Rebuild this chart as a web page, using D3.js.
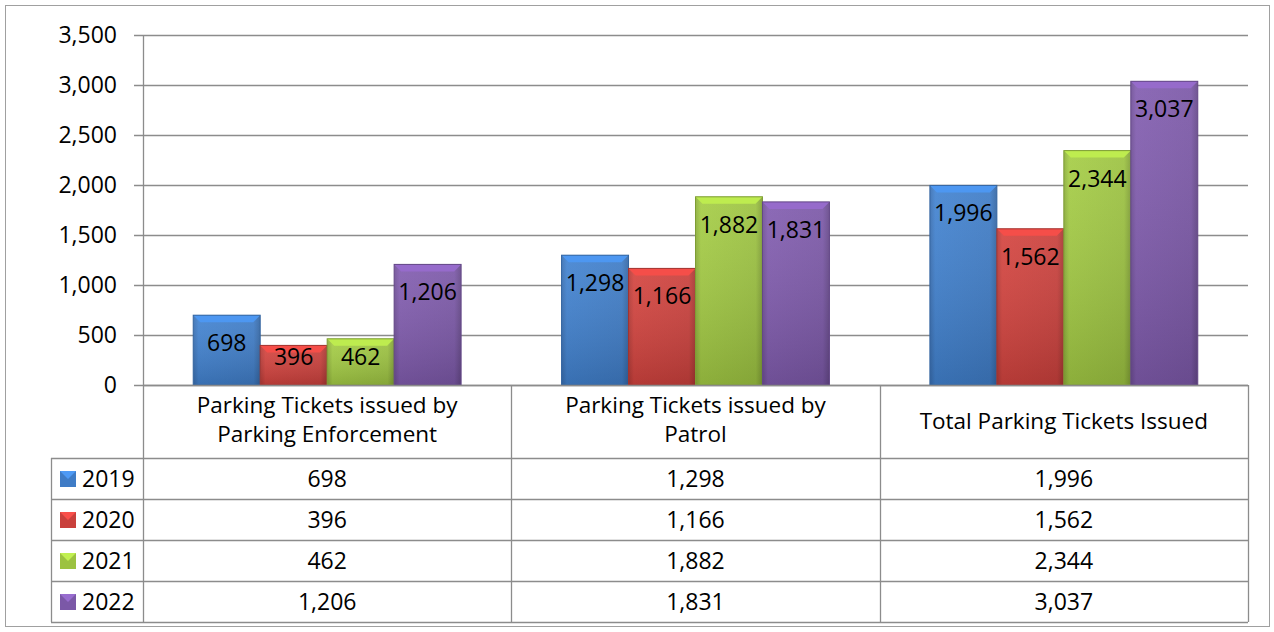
<!DOCTYPE html>
<html>
<head>
<meta charset="utf-8">
<script src="https://cdn.jsdelivr.net/npm/d3@7"></script>
<style>
  body { margin: 0; background: #fff; }
  svg { display: block; font-family: "Open Sans", Carlito, Calibri, sans-serif; }
</style>
</head>
<body>
<script>
(() => {
  const width = 1274;
  const height = 632;

  // Chart data
  const categories = [
    ["Parking Tickets issued by", "Parking Enforcement"],
    ["Parking Tickets issued by", "Patrol"],
    ["Total Parking Tickets Issued"]
  ];
  const years = ["2019", "2020", "2021", "2022"];
  const values2019 = [698, 1298, 1996];
  const values2020 = [396, 1166, 1562];
  const values2021 = [462, 1882, 2344];
  const values2022 = [1206, 1831, 3037];
  const seriesValues = [values2019, values2020, values2021, values2022];
  const yTicks = [0, 500, 1000, 1500, 2000, 2500, 3000, 3500];
  const colors = ["#3f7cc6", "#c9403c", "#9cc241", "#7b58a7"];

  // Layout
  const plotLeft = 143, plotRight = 1248, plotTop = 35, plotBottom = 385;
  const headerBottom = 458, rowH = 41, legendLeft = 51;
  const grid = "#8c8c8c";
  const numSize = 23, textSize = 22.5;
  const fmt = d3.format(",");

  const svg = d3.select("body").append("svg")
    .attr("width", width).attr("height", height);

  // Outer border
  svg.append("rect").attr("x", 5.5).attr("y", 5.5)
    .attr("width", 1264).attr("height", 621)
    .attr("fill", "#fff").attr("stroke", "#a0a0a0");

  const x0 = d3.scaleBand().domain(d3.range(categories.length))
    .range([plotLeft, plotRight]).paddingInner(0).paddingOuter(0);
  const x1 = d3.scaleBand().domain(d3.range(years.length))
    .range([0, x0.bandwidth()]).paddingInner(0).paddingOuter(0.75);
  const y = d3.scaleLinear().domain([0, 3500]).range([plotBottom, plotTop]);

  // Gradients per colour
  const defs = svg.append("defs");
  colors.forEach((c, i) => {
    const g = defs.append("linearGradient").attr("id", "bar" + i)
      .attr("x1", 0).attr("x2", 1).attr("y1", 0).attr("y2", 0);
    const base = d3.color(c);
    g.append("stop").attr("offset", "0%").attr("stop-color", base.darker(0.3));
    g.append("stop").attr("offset", "8%").attr("stop-color", base.brighter(0.15));
    g.append("stop").attr("offset", "90%").attr("stop-color", base);
    g.append("stop").attr("offset", "100%").attr("stop-color", base.darker(0.55));
    const v = defs.append("linearGradient").attr("id", "shade" + i)
      .attr("x1", 0).attr("x2", 0).attr("y1", 0).attr("y2", 1);
    v.append("stop").attr("offset", "0%").attr("stop-color", "#fff").attr("stop-opacity", 0.08);
    v.append("stop").attr("offset", "100%").attr("stop-color", "#000").attr("stop-opacity", 0.15);
  });

  // Gridlines + ticks
  const axisG = svg.append("g");
  axisG.selectAll("line.grid").data(yTicks).join("line")
    .attr("x1", plotLeft - 9).attr("x2", plotRight)
    .attr("y1", d => Math.round(y(d)) + 0.5).attr("y2", d => Math.round(y(d)) + 0.5)
    .attr("stroke", grid).attr("stroke-width", 1.3);
  axisG.selectAll("text").data(yTicks).join("text")
    .attr("x", 117).attr("y", d => y(d) + 8)
    .attr("text-anchor", "end").attr("font-size", numSize).attr("fill", "#000")
    .text(d => fmt(d));

  // Bars
  const bev = 7;
  const groups = svg.append("g").selectAll("g").data(categories).join("g")
    .attr("transform", (d, i) => `translate(${x0(i)},0)`);
  groups.each(function (cat, ci) {
    const g = d3.select(this);
    seriesValues.forEach((vals, si) => {
      const v = vals[ci];
      const bx = x1(si), bw = x1.bandwidth();
      const by = y(v), bh = plotBottom - by;
      const base = d3.color(colors[si]);
      g.append("rect").attr("x", bx).attr("y", by).attr("width", bw).attr("height", bh)
        .attr("fill", `url(#bar${si})`);
      g.append("rect").attr("x", bx).attr("y", by).attr("width", bw).attr("height", bh)
        .attr("fill", `url(#shade${si})`);
      // top bevel
      g.append("polygon")
        .attr("points", [[bx, by], [bx + bw, by], [bx + bw - bev, by + bev], [bx + bev, by + bev]].map(p => p.join(",")).join(" "))
        .attr("fill", base.brighter(0.55));
      g.append("rect").attr("x", bx).attr("y", by).attr("width", bw).attr("height", bh)
        .attr("fill", "none").attr("stroke", base.darker(0.6)).attr("stroke-width", 1);
      g.append("text")
        .attr("x", bx + bw / 2)
        .attr("y", Math.min(by + 36, plotBottom - 20))
        .attr("text-anchor", "middle").attr("font-size", numSize).attr("fill", "#000")
        .text(fmt(v));
    });
  });

  // Table
  const t = svg.append("g");
  const tableBottom = headerBottom + rowH * years.length;
  t.append("line").attr("x1", plotLeft).attr("x2", plotRight)
    .attr("y1", plotBottom + 0.5).attr("y2", plotBottom + 0.5).attr("stroke", grid).attr("stroke-width", 1.3);
  d3.range(years.length + 1).forEach(r => {
    const yy = headerBottom + r * rowH + 0.5;
    t.append("line").attr("x1", legendLeft).attr("x2", plotRight)
      .attr("y1", yy).attr("y2", yy).attr("stroke", grid).attr("stroke-width", 1.3);
  });
  t.append("line").attr("x1", plotLeft + 0.5).attr("x2", plotLeft + 0.5)
    .attr("y1", plotTop).attr("y2", tableBottom).attr("stroke", grid).attr("stroke-width", 1.3);
  t.append("line").attr("x1", legendLeft + 0.5).attr("x2", legendLeft + 0.5)
    .attr("y1", headerBottom).attr("y2", tableBottom).attr("stroke", grid).attr("stroke-width", 1.3);
  [1, 2, 3].forEach(i => {
    const xx = Math.round(plotLeft + x0.bandwidth() * i) + 0.5;
    t.append("line").attr("x1", xx).attr("x2", xx)
      .attr("y1", plotBottom).attr("y2", tableBottom).attr("stroke", grid).attr("stroke-width", 1.3);
  });

  // category header labels
  categories.forEach((lines, ci) => {
    const cx = x0(ci) + x0.bandwidth() / 2;
    const lh = 29;
    const first = lines.length === 1 ? 429 : 413;
    lines.forEach((ln, li) => {
      t.append("text").attr("x", cx).attr("y", first + li * lh)
        .attr("text-anchor", "middle").attr("font-size", textSize).attr("fill", "#000")
        .text(ln);
    });
  });

  // rows
  years.forEach((yr, si) => {
    const ry = headerBottom + si * rowH;
    const base = d3.color(colors[si]);
    t.append("rect").attr("x", 60).attr("y", ry + 13).attr("width", 16).attr("height", 16)
      .attr("fill", base);
    t.append("polygon")
      .attr("points", `60,${ry + 13} 76,${ry + 13} 68,${ry + 21}`)
      .attr("fill", base.brighter(0.6));
    t.append("text").attr("x", 82).attr("y", ry + 29)
      .attr("font-size", numSize).attr("fill", "#000").text(yr);
    seriesValues[si].forEach((v, ci) => {
      t.append("text").attr("x", x0(ci) + x0.bandwidth() / 2).attr("y", ry + 29)
        .attr("text-anchor", "middle").attr("font-size", numSize).attr("fill", "#000")
        .text(fmt(v));
    });
  });
})();
</script>
</body>
</html>
